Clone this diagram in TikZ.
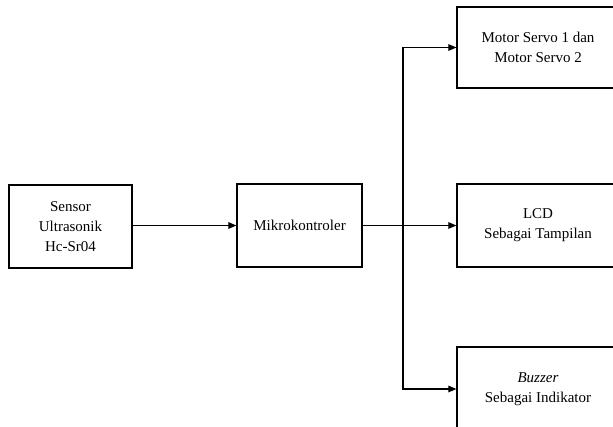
\documentclass[tikz,border=0pt]{standalone}
\usepackage{fontspec}
\setmainfont{Liberation Serif}
\usetikzlibrary{arrows.meta}
\begin{document}
\begin{tikzpicture}[x=1pt,y=-1pt,
  blk/.style={draw, line width=1.2pt, minimum width=123pt, minimum height=83pt, inner sep=0pt, align=center,
    font=\fontsize{15}{20}\selectfont},
  rblk/.style={blk, minimum width=162pt},
  conn/.style={line width=1.1pt, -{Triangle[length=8pt,width=6.5pt]}}]
\useasboundingbox (0,0) rectangle (613,426);
\clip (0,0) rectangle (613,426);
\fill[white] (0,0) rectangle (613,426);
\node[blk] (sensor) at (70.5,226.5) {Sensor\\Ultrasonik\\Hc-Sr04};
\node[blk, minimum width=125pt] (mikro) at (299.5,225.5) {Mikrokontroler};
\node[rblk, minimum height=81pt] (motor) at (538,47.5) {Motor Servo 1 dan\\Motor Servo 2};
\node[rblk] (lcd) at (538,225.5) {LCD\\Sebagai Tampilan};
\node[rblk, minimum height=84pt] (buzzer) at (538,389) {\textit{Buzzer}\\Sebagai Indikator};
\coordinate (j) at (403,225.5);
\draw[conn] (sensor.east |- mikro.west) -- (mikro.west);
\draw[conn] (mikro.east) -- (lcd.west);
\draw[conn] (j) |- (motor.west);
\draw[conn] (j) |- (buzzer.west);
\end{tikzpicture}
\end{document}
